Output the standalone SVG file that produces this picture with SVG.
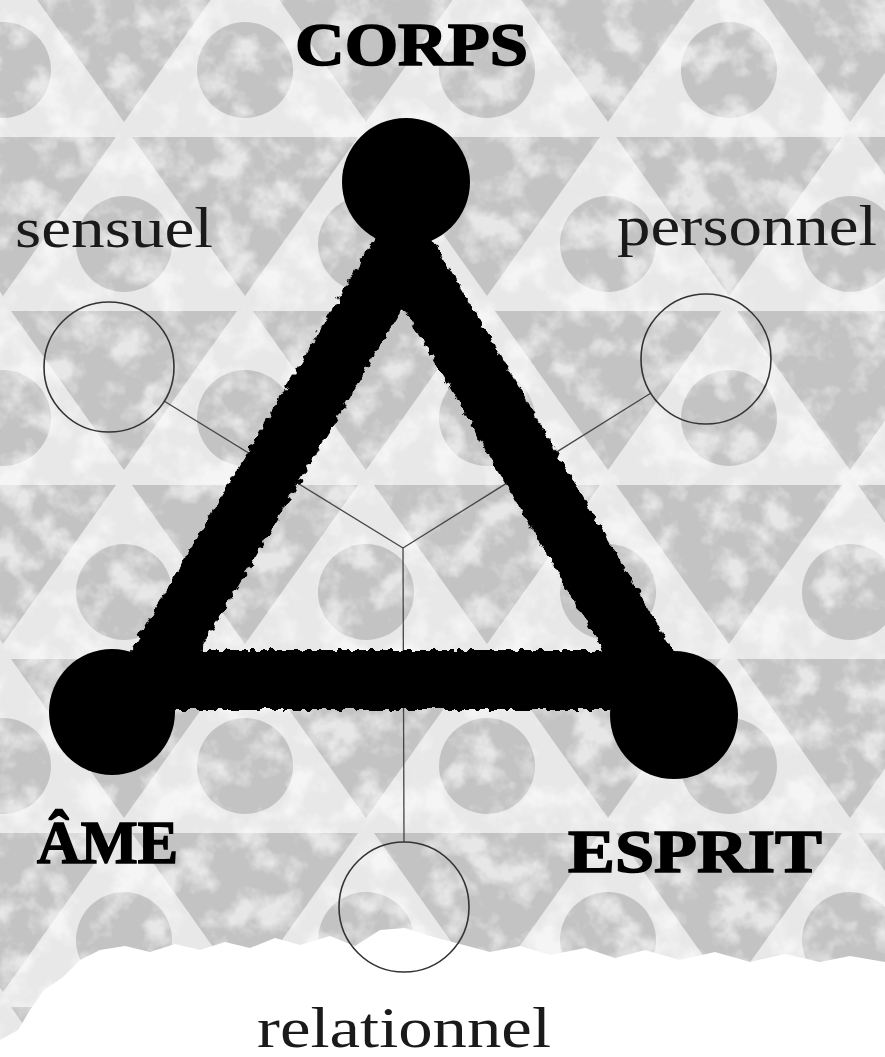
<svg xmlns="http://www.w3.org/2000/svg" width="885" height="1057" viewBox="0 0 885 1057">
  <style>
    .lbl { font-family: "Liberation Serif", "Times New Roman", serif; font-size: 56px; fill: #1a1a1a; }
    .big { font-family: "Liberation Serif", "Times New Roman", serif; font-weight: 900; font-size: 62px; fill: #000; stroke: #000; stroke-width: 1.6; }
    .ring { fill: none; stroke: #333; stroke-width: 1.6; }
    .link { stroke: #444; stroke-width: 1.3; fill: none; }
    .dot { fill: #000; }
  </style>
  <defs>
    <pattern id="bg" patternUnits="userSpaceOnUse" x="3" y="-42" width="242" height="348">
      <rect width="242" height="348" fill="#e8e8e8"/>
      <g fill="#c3c3c3">
        <polygon points="8,5 234,5 121,164"/>
        <circle cx="0" cy="112" r="48"/>
        <circle cx="242" cy="112" r="48"/>
        <polygon points="-113,179 113,179 0,338"/>
        <polygon points="129,179 355,179 242,338"/>
        <circle cx="121" cy="286" r="48"/>
      </g>
    </pattern>
    <filter id="mottle" x="0" y="0" width="1" height="1">
      <feTurbulence type="fractalNoise" baseFrequency="0.028" numOctaves="4" seed="7"/>
      <feColorMatrix type="matrix" values="0 0 0 0 1  0 0 0 0 1  0 0 0 0 1  -3.6 0 0 0 2.0"/>
    </filter>
    <filter id="rough" x="-10%" y="-10%" width="120%" height="120%">
      <feTurbulence type="fractalNoise" baseFrequency="0.16" numOctaves="1" seed="2" result="n"/>
      <feDisplacementMap in="SourceGraphic" in2="n" scale="10" xChannelSelector="R" yChannelSelector="G"/>
    </filter>
  </defs>

  <g id="background">
    <rect width="885" height="1057" fill="url(#bg)"/>
    <rect width="885" height="1057" fill="#fff" filter="url(#mottle)" opacity="0.6"/>
    <path d="M0,1057 L0,1040 L18,1030 L30,1010 L44,990 L62,978 L80,960 L100,950 L125,946 L150,952 L175,944 L200,950 L225,942 L250,948 L275,938 L300,945 L330,936 L355,946 L380,930 L405,928 L430,936 L460,944 L490,952 L520,946 L550,955 L585,948 L615,958 L645,950 L680,960 L715,952 L750,962 L785,954 L820,962 L850,956 L885,962 L885,1057 Z" fill="#fff"/>
  </g>

  <g id="connectors">
    <line class="link" x1="403" y1="548" x2="164" y2="401"/>
    <line class="link" x1="403" y1="548" x2="651" y2="393"/>
    <line class="link" x1="403" y1="548" x2="404" y2="842"/>
  </g>

  <g id="triangle">
    <path d="M403,248 L148,680 L655,680 Z" fill="none" stroke="#000" stroke-width="60" stroke-linejoin="round" filter="url(#rough)"/>
  </g>

  <g id="node-corps">
    <circle class="dot" cx="406" cy="182" r="64"/>
    <text class="big" x="295" y="65" textLength="233" lengthAdjust="spacingAndGlyphs">CORPS</text>
  </g>
  <g id="node-ame">
    <circle class="dot" cx="112" cy="712" r="63"/>
    <text class="big" x="37" y="863" textLength="141" lengthAdjust="spacingAndGlyphs">ÂME</text>
  </g>
  <g id="node-esprit">
    <circle class="dot" cx="674" cy="715" r="64"/>
    <text class="big" x="568" y="872" textLength="254" lengthAdjust="spacingAndGlyphs">ESPRIT</text>
  </g>

  <g id="node-sensuel">
    <circle class="ring" cx="109" cy="367" r="65"/>
    <text class="lbl" x="15" y="247" textLength="198" lengthAdjust="spacingAndGlyphs">sensuel</text>
  </g>
  <g id="node-personnel">
    <circle class="ring" cx="706" cy="359" r="65"/>
    <text class="lbl" x="617" y="245" textLength="260" lengthAdjust="spacingAndGlyphs">personnel</text>
  </g>
  <g id="node-relationnel">
    <circle class="ring" cx="404" cy="907" r="65"/>
    <text class="lbl" x="257" y="1047" textLength="294" lengthAdjust="spacingAndGlyphs">relationnel</text>
  </g>
</svg>
